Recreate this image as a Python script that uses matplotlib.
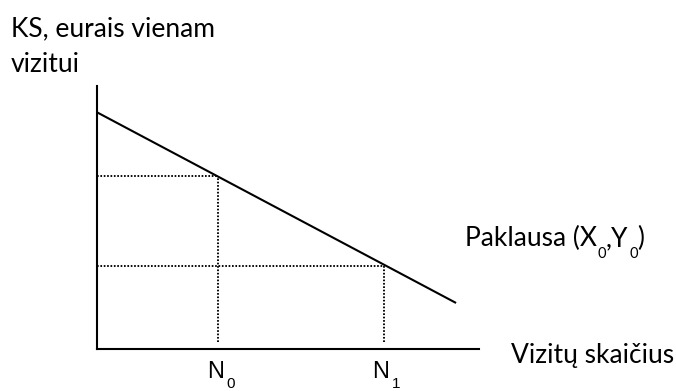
import matplotlib
matplotlib.use("Agg")
import matplotlib.pyplot as plt

plt.rcParams['font.family'] = ['Lato', 'DejaVu Sans']

# Data (chart units)
demand_x = [0.0, 9.4]
demand_y = [9.0, 1.75]
quantities = [3.17, 7.5]
prices = [6.57, 3.15]
tick_main = ['N', 'N']
tick_sub = ['0', '1']
y_label_lines = ['KS, eurais vienam', 'vizitui']
x_label = 'Vizitų skaičius'
curve_label = [('Paklausa (X', False), ('0', True), (',Y', False), ('0', True), (')', False)]

W, H = 676, 391
fig = plt.figure(figsize=(W / 100, H / 100), dpi=100)
ax = fig.add_axes([97 / W, (H - 349) / H, 382 / W, 263 / H])
ax.set_xlim(0, 10)
ax.set_ylim(0, 10)

ax.plot(demand_x, demand_y, color='black', lw=1.5, solid_capstyle='butt')
for q, p in zip(quantities, prices):
    ax.plot([0, q], [p, p], color='black', lw=1.35, linestyle=(0, (0.9, 0.9)))
    ax.plot([q, q], [0.27, p], color='black', lw=1.35, linestyle=(0, (0.9, 0.9)))

for s in ['top', 'right']:
    ax.spines[s].set_visible(False)
for s in ['left', 'bottom']:
    ax.spines[s].set_linewidth(1.5)
ax.set_yticks([])
ax.set_xticks([])

renderer = fig.canvas.get_renderer()


def px(x, y):
    return x / W, 1 - y / H


def draw_pieces(x0, base, pieces, size, sub_size, drop, family=None,
                center_first=False, sub_gap=0.0):
    x = x0
    for i, (s, sub) in enumerate(pieces):
        kw = {}
        if family:
            kw['family'] = family
        ha = 'center' if (center_first and i == 0) else 'left'
        if sub:
            x += sub_gap
        t = fig.text(*px(x, base + (drop if sub else 0)), s,
                     fontsize=sub_size if sub else size, va='baseline', ha=ha, **kw)
        bb = t.get_window_extent(renderer)
        x = bb.x1 + (0.5 if not sub else 0)


fig.text(*px(11, 36), y_label_lines[0], fontsize=19, va='baseline', ha='left')
fig.text(*px(11, 72), y_label_lines[1], fontsize=19, va='baseline', ha='left')
fig.text(*px(511, 363), x_label, fontsize=19, va='baseline', ha='left')
draw_pieces(465, 246, curve_label, 19, 10.5, 12)

for q, m, s in zip(quantities, tick_main, tick_sub):
    xp = ax.transData.transform((q, 0))[0] - 3
    draw_pieces(xp, 378, [(m, False), (s, True)], 17, 11, 10,
                family=['Liberation Sans', 'DejaVu Sans'], center_first=True,
                sub_gap=2)

fig.savefig('out.png', dpi=100, facecolor='white')
